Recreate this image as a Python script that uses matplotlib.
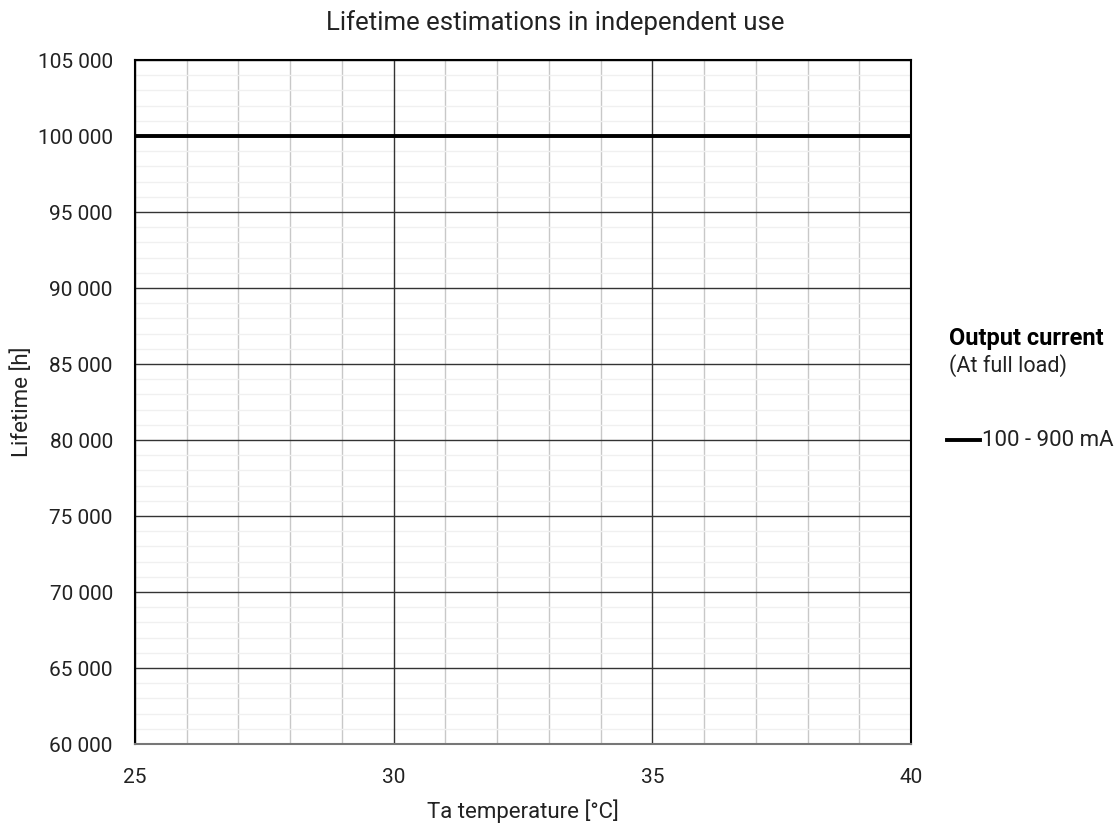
import matplotlib.pyplot as plt
from matplotlib.ticker import MultipleLocator, FuncFormatter
from matplotlib.lines import Line2D

temps = [25, 30, 35, 40]
lifetime = [100000, 100000, 100000, 100000]
series_label = "100 - 900 mA"

plt.rcParams['font.family'] = ['Roboto', 'DejaVu Sans']

fig = plt.figure(figsize=(11.18, 8.23), dpi=100)
ax = fig.add_axes([135/1118, 1 - 744/823, (911-135)/1118, (744-60)/823])

ax.plot(temps, lifetime, color='black', linewidth=2.8, zorder=5)

ax.set_xlim(25, 40)
ax.set_ylim(60000, 105000)
ax.xaxis.set_major_locator(MultipleLocator(5))
ax.xaxis.set_minor_locator(MultipleLocator(1))
ax.yaxis.set_major_locator(MultipleLocator(5000))
ax.yaxis.set_minor_locator(MultipleLocator(1000))
ax.yaxis.set_major_formatter(FuncFormatter(lambda v, p: f"{int(v):,}".replace(",", " ")))

# minor grid via ax.grid, major grid drawn on top from the tick positions
ax.grid(which='minor', axis='x', color='#c8c8c8', linewidth=1.0)
ax.grid(which='minor', axis='y', color='#f0f0f0', linewidth=1.0)
ax.set_axisbelow(True)
for v in ax.get_xticks():
    ax.axvline(v, color='#333333', linewidth=1.0, zorder=2)
for v in ax.get_yticks():
    ax.axhline(v, color='#333333', linewidth=1.0, zorder=2)

ax.tick_params(which='both', length=0, labelsize=15, labelcolor='#222222')
ax.tick_params(axis='y', pad=16)
ax.tick_params(axis='x', pad=17)
for s in ax.spines.values():
    s.set_color('black')
    s.set_linewidth(1.5)
    s.set_zorder(6)
ax.spines['bottom'].set_color('#777777')

ax.set_xlabel("Ta temperature [°C]", fontsize=16, labelpad=9, color='#222222')
ax.set_ylabel("Lifetime [h]", fontsize=16, labelpad=3, color='#222222')
fig.text(0.497, 1 - 23/823, "Lifetime estimations in independent use", ha='center', va='center',
         fontsize=18.5, color='#222222')

fig.text(949/1118, 1 - 338/823, "Output current", fontsize=17, fontweight='bold', va='center')
fig.text(949/1118, 1 - 366/823, "(At full load)", fontsize=15.5, va='center', color='#222222')
fig.add_artist(Line2D([947/1118, 980/1118], [1 - 440/823, 1 - 440/823], color='black', linewidth=2.8))
fig.text(982/1118, 1 - 440/823, series_label, fontsize=16, va='center', color='#222222')

fig.savefig('out.png', dpi=100)
